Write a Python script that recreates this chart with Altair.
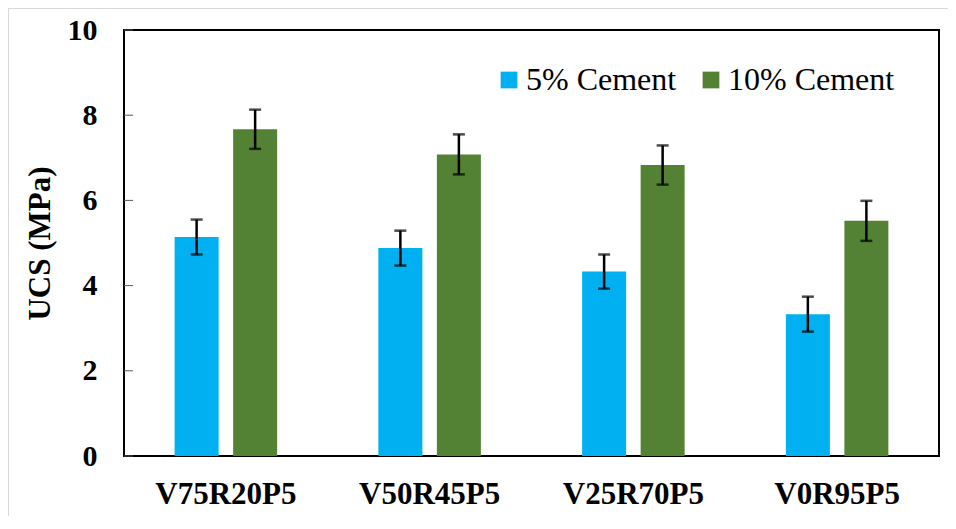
import altair as alt
import pandas as pd

categories = ["V75R20P5", "V50R45P5", "V25R70P5", "V0R95P5"]
series = ["5% Cement", "10% Cement"]
ucs_5 = [5.14, 4.88, 4.33, 3.33]
ucs_10 = [7.67, 7.08, 6.83, 5.52]
err_5 = [0.41, 0.41, 0.40, 0.41]
err_10 = [0.46, 0.47, 0.46, 0.47]
colors = ["#00B0F0", "#548235"]
y_ticks = [0, 2, 4, 6, 8, 10]

rows = []
for i, c in enumerate(categories):
    rows.append({"cat": c, "series": series[0], "ucs": ucs_5[i], "err": err_5[i]})
    rows.append({"cat": c, "series": series[1], "ucs": ucs_10[i], "err": err_10[i]})
df = pd.DataFrame(rows)
df["lo"] = df["ucs"] - df["err"]
df["hi"] = df["ucs"] + df["err"]

FONT = "Liberation Serif"

x_enc = alt.X("cat:N", sort=categories, scale=alt.Scale(paddingInner=0, paddingOuter=0),
              axis=alt.Axis(title=None, labelAngle=0, labelFont=FONT, labelFontSize=31,
                            labelFontWeight="bold", labelColor="black", ticks=False,
                            tickSize=0, domain=False, labelPadding=23))
xo_enc = alt.XOffset("series:N", sort=series,
                     scale=alt.Scale(paddingInner=0.248, paddingOuter=0.865))
y_scale = alt.Scale(domain=[0, 10], nice=False)

bars = alt.Chart(df).mark_bar().encode(
    x=x_enc,
    xOffset=xo_enc,
    y=alt.Y("ucs:Q", scale=y_scale,
            axis=alt.Axis(title="UCS (MPa)", values=y_ticks, grid=False, ticks=False,
                          tickSize=0, domain=False, labelFont=FONT, labelFontSize=30,
                          labelFontWeight="bold", labelColor="black", labelPadding=27,
                          titleFont=FONT, titleFontSize=31, titleFontWeight="bold",
                          titleColor="black", titlePadding=11)),
    color=alt.Color("series:N", sort=series,
                    scale=alt.Scale(domain=series, range=colors),
                    legend=alt.Legend(title=None, orient="none", direction="horizontal",
                                      legendX=369, legendY=34, symbolType="square",
                                      symbolSize=280, symbolStrokeWidth=0,
                                      labelFont=FONT, labelFontSize=32, labelColor="black",
                                      labelOffset=1, columnPadding=18, padding=0,
                                      labelLimit=400)),
)

rules = alt.Chart(df).mark_rule(color="black", strokeWidth=2.5).encode(
    x=alt.X("cat:N", sort=categories),
    xOffset=xo_enc,
    y=alt.Y("lo:Q", scale=y_scale),
    y2="hi:Q",
)
caps_hi = alt.Chart(df).mark_tick(color="black", size=12, thickness=2.5).encode(
    x=alt.X("cat:N", sort=categories),
    xOffset=xo_enc,
    y=alt.Y("hi:Q", scale=y_scale),
)
caps_lo = alt.Chart(df).mark_tick(color="black", size=12, thickness=2.5).encode(
    x=alt.X("cat:N", sort=categories),
    xOffset=xo_enc,
    y=alt.Y("lo:Q", scale=y_scale),
)

tick_df = pd.DataFrame({"t": y_ticks})
inward_ticks = alt.Chart(tick_df).mark_rule(color="#595959", strokeWidth=1).encode(
    y=alt.Y("t:Q", scale=y_scale),
    x=alt.value(0),
    x2=alt.value(9),
)

border_top = alt.Chart(tick_df).mark_rule(color="#D9D9D9", strokeWidth=1).encode(
    x=alt.value(-115.5), x2=alt.value(830), y=alt.value(-21.5))
border_left = alt.Chart(tick_df).mark_rule(color="#D9D9D9", strokeWidth=1).encode(
    x=alt.value(-115.5), y=alt.value(-21.5), y2=alt.value(490))

chart = alt.layer(border_top, border_left, bars, rules, caps_hi, caps_lo, inward_ticks).properties(
    width=815, height=426,
    autosize=alt.AutoSizeParams(type="none"),
    padding={"left": 116, "top": 22, "right": 9, "bottom": 60},
    background="white",
).configure_view(stroke="black", strokeWidth=2)

chart.save("out.html", embed_options={"renderer": "svg", "actions": False})
